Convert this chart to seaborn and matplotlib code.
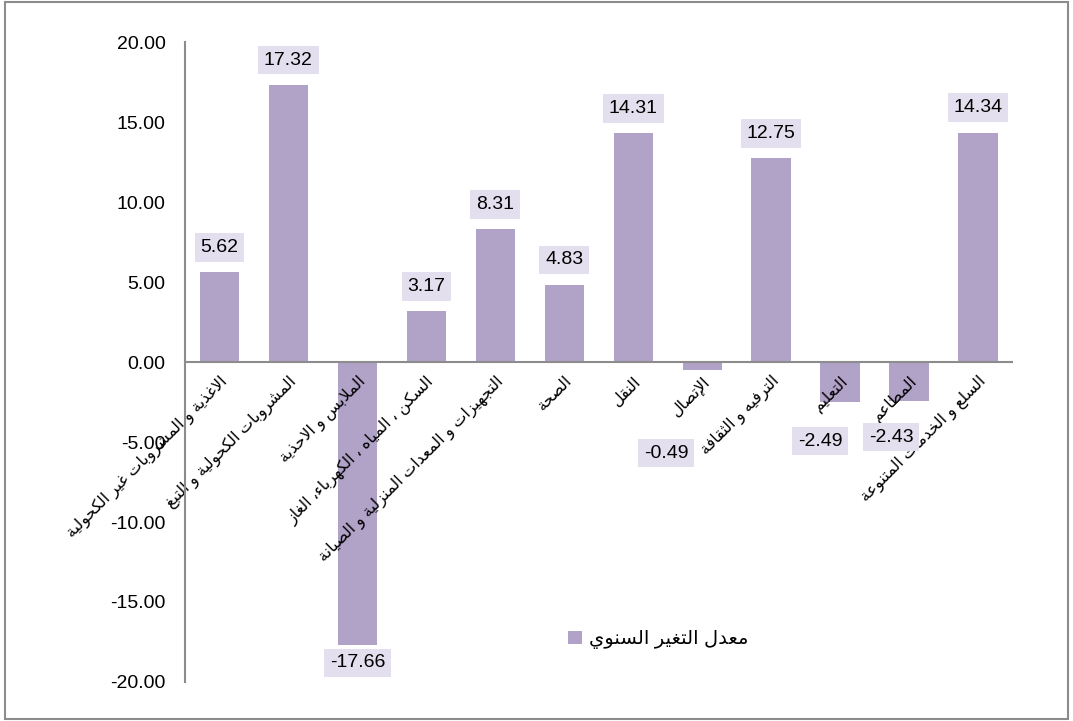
import pandas as pd
import seaborn as sns
import matplotlib.pyplot as plt
from matplotlib.patches import Rectangle

# data
categories = [
    "الاغذية و المشروبات غير الكحولية",
    "المشروبات الكحولية و التبغ",
    "الملابس و الاحذية",
    "السكن ، المياه ، الكهرباء، الغاز",
    "التجهيزات و المعدات المنزلية و الصيانة",
    "الصحة",
    "النقل",
    "الإتصال",
    "الترفيه و الثقافة",
    "التعليم",
    "المطاعم",
    "السلع و الخدمات المتنوعة",
]
values = [5.62, 17.32, -17.66, 3.17, 8.31, 4.83, 14.31, -0.49, 12.75, -2.49, -2.43, 14.34]
series_name = "معدل التغير السنوي"
yticks = [-20, -15, -10, -5, 0, 5, 10, 15, 20]

# matplotlib has no arabic shaping: map letters to presentation forms and reverse
FORMS = {
    'ء': (0xFE80, 1), 'آ': (0xFE81, 2), 'أ': (0xFE83, 2), 'ؤ': (0xFE85, 2),
    'إ': (0xFE87, 2), 'ئ': (0xFE89, 4), 'ا': (0xFE8D, 2), 'ب': (0xFE8F, 4),
    'ة': (0xFE93, 2), 'ت': (0xFE95, 4), 'ث': (0xFE99, 4), 'ج': (0xFE9D, 4),
    'ح': (0xFEA1, 4), 'خ': (0xFEA5, 4), 'د': (0xFEA9, 2), 'ذ': (0xFEAB, 2),
    'ر': (0xFEAD, 2), 'ز': (0xFEAF, 2), 'س': (0xFEB1, 4), 'ش': (0xFEB5, 4),
    'ص': (0xFEB9, 4), 'ض': (0xFEBD, 4), 'ط': (0xFEC1, 4), 'ظ': (0xFEC5, 4),
    'ع': (0xFEC9, 4), 'غ': (0xFECD, 4), 'ف': (0xFED1, 4), 'ق': (0xFED5, 4),
    'ك': (0xFED9, 4), 'ل': (0xFEDD, 4), 'م': (0xFEE1, 4), 'ن': (0xFEE5, 4),
    'ه': (0xFEE9, 4), 'و': (0xFEED, 2), 'ى': (0xFEEF, 2), 'ي': (0xFEF1, 4),
}
LAM_ALEF = {'ا': 0xFEFB, 'أ': 0xFEF7, 'إ': 0xFEF9, 'آ': 0xFEF5}


def shape(text):
    units = []
    i = 0
    while i < len(text):
        c = text[i]
        if c == 'ل' and i + 1 < len(text) and text[i + 1] in LAM_ALEF:
            units.append((LAM_ALEF[text[i + 1]], 2))
            i += 2
        elif c in FORMS:
            units.append(FORMS[c])
            i += 1
        else:
            units.append((c, 0))
            i += 1
    out = []
    for k, (base, n) in enumerate(units):
        if n == 0:
            out.append(base)
            continue
        prev_ok = k > 0 and units[k - 1][1] == 4 and n >= 2
        next_ok = k + 1 < len(units) and n == 4 and units[k + 1][1] >= 2
        if prev_ok and next_ok:
            off = 3
        elif prev_ok:
            off = 1
        elif next_ok:
            off = 2
        else:
            off = 0
        out.append(chr(base + off))
    return "".join(out)[::-1]


plt.rcParams['font.family'] = ['Liberation Sans', 'DejaVu Sans']

bar_color = "#b1a2c8"
box_color = "#e4dfee"

df = pd.DataFrame({"cat": [shape(c) for c in categories], "val": values})

fig = plt.figure(figsize=(10.73, 7.21), dpi=100)
ax = fig.add_axes([0.1724, 0.0541, 0.7712, 0.8876])
sns.barplot(data=df, x="cat", y="val", color=bar_color, width=0.57,
            saturation=1, ax=ax, label=shape(series_name))

ax.set_ylim(-20, 20)
ax.set_xlim(-0.5, len(values) - 0.5)
ax.set_yticks(yticks)
ax.set_yticklabels([f"{t:.2f}" for t in yticks], fontsize=14)
ax.tick_params(axis="both", length=0)
ax.tick_params(axis="y", pad=14)
ax.set_xlabel("")
ax.set_ylabel("")

for s in ["top", "right"]:
    ax.spines[s].set_visible(False)
ax.spines["left"].set_color("#8c8c8c")
ax.spines["left"].set_linewidth(1.5)
ax.spines["bottom"].set_position(("data", 0))
ax.spines["bottom"].set_color("#8c8c8c")
ax.spines["bottom"].set_linewidth(1.5)

ax.set_xticks(range(len(values)))
ax.set_xticklabels(df["cat"], rotation=45, ha="right", va="top",
                   rotation_mode="anchor", fontsize=11.5)
ax.tick_params(axis="x", pad=8)

# data labels (a few were moved by hand in the original)
moved = {7: (-0.52, -5.69), 9: (-0.29, -4.94), 10: (-0.26, -4.69)}
for i, v in enumerate(values):
    if i in moved:
        dx, y = moved[i]
    else:
        dx, y = 0, (v + 1.55 if v >= 0 else v - 1.15)
    ax.text(i + dx, y, f"{v:.2f}", ha="center", va="center", fontsize=14,
            bbox=dict(boxstyle="square,pad=0.3", fc=box_color, ec="none"))

leg = ax.legend(loc="center", bbox_to_anchor=(0.572, 0.066), frameon=False,
                fontsize=14, handlelength=0.7, handleheight=0.7, handletextpad=0.4)

fig.patches.append(Rectangle((0.005, 0.003), 0.99, 0.994, transform=fig.transFigure,
                             fill=False, ec="#8c8c8c", lw=1.5))

plt.savefig("out.png", dpi=100)
